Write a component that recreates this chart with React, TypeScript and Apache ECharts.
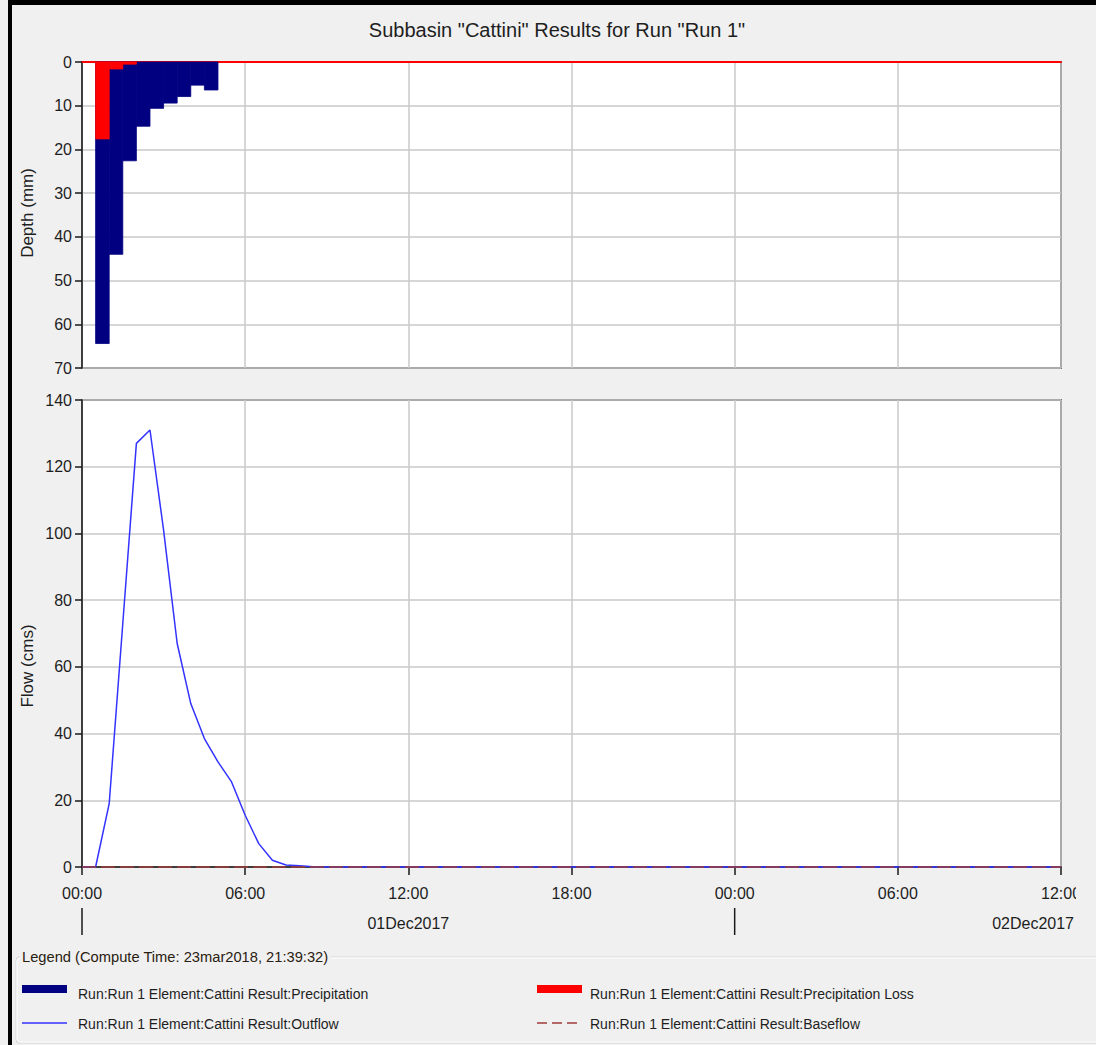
import React, { useEffect, useRef } from "react";
import * as echarts from "echarts";

// ---------- data ----------
const chartTitle = 'Subbasin "Cattini" Results for Run "Run 1"';
const depthAxisName = "Depth (mm)";
const flowAxisName = "Flow (cms)";

// precipitation intervals (end time in hours after 01Dec2017 00:00), 30 min steps
const stepHours = 0.5;
const precipEndHours = [1, 1.5, 2, 2.5, 3, 3.5, 4, 4.5, 5];
const precipDepth = [64.4, 44.0, 22.6, 14.7, 10.6, 9.4, 7.9, 5.3, 6.4];
const precipLoss = [17.6, 1.6, 0.5, 0, 0, 0, 0, 0, 0];

// outflow hydrograph
const flowHours = [0, 0.5, 1, 1.5, 2, 2.5, 3, 3.5, 4, 4.5, 5, 5.5, 6, 6.5, 7, 7.5, 8, 8.5, 9, 36];
const outflow = [0, 0, 19, 73, 127, 131, 101, 67, 49, 38.5, 31.5, 25.5, 15.5, 7, 2, 0.6, 0.4, 0.1, 0, 0];
const baseflowHours = [0, 36];
const baseflow = [0, 0];

const dayLabels = ["01Dec2017", "02Dec2017"];
const legendTitle = "Legend (Compute Time: 23mar2018, 21:39:32)";
const legendLabels = [
  "Run:Run 1 Element:Cattini Result:Precipitation",
  "Run:Run 1 Element:Cattini Result:Precipitation Loss",
  "Run:Run 1 Element:Cattini Result:Outflow",
  "Run:Run 1 Element:Cattini Result:Baseflow",
];

// ---------- styles ----------
const FONT = "Liberation Sans";
const BG = "#f0f0f0";
const NAVY = "#000080";
const RED = "#ff0000";
const BLUE = "#3333ff";
const BROWN = "#a03c3c";
const GRIDC = "#c8c8c8";
const TXT = "#1e1e1e";

const pad2 = (n: number) => (n < 10 ? "0" + n : "" + n);
const hourLabel = (v: number) => pad2(Math.round(v) % 24) + ":00";

function barData(values: number[]) {
  return precipEndHours.map((t, i) => [t - stepHours, t, values[i]]);
}

function makeRender(color: string) {
  return (params: any, api: any) => {
    const p0 = api.coord([api.value(0), 0]);
    const p1 = api.coord([api.value(1), api.value(2)]);
    const y = Math.min(p0[1], p1[1]);
    const h = Math.abs(p1[1] - p0[1]);
    if (h <= 0) return null;
    return {
      type: "rect",
      shape: { x: p0[0], y, width: p1[0] - p0[0], height: h },
      style: { fill: color, stroke: color, lineWidth: 0.8 },
    };
  };
}

export default function App() {
  const ref = useRef<HTMLDivElement>(null);

  useEffect(() => {
    if (!ref.current) return;
    const chart = echarts.init(ref.current, null, { renderer: "svg" });

    const axisLabelStyle = { color: TXT, fontSize: 16, fontFamily: FONT };
    const splitLine = { show: true, lineStyle: { color: GRIDC, width: 1.5 } };

    const option: any = {
      animation: false,
      backgroundColor: BG,
      textStyle: { fontFamily: FONT },
      grid: [
        { left: 82, top: 62, width: 979, height: 306, show: true, backgroundColor: "#fff", borderColor: "#1a1a1a", borderWidth: 1.5 },
        { left: 82, top: 400, width: 979, height: 467, show: true, backgroundColor: "#fff", borderColor: "#1a1a1a", borderWidth: 1.5 },
      ],
      xAxis: [
        {
          gridIndex: 0, type: "value", min: 0, max: 36, interval: 6, position: "top",
          axisLine: { show: true, lineStyle: { color: RED, width: 2 } },
          axisTick: { show: false }, axisLabel: { show: false }, splitLine,
        },
        {
          gridIndex: 1, type: "value", min: 0, max: 36, interval: 6, position: "bottom",
          axisLine: { show: true, lineStyle: { color: "#1a1a1a", width: 1.5 } },
          axisTick: { show: true, length: 8, lineStyle: { color: "#1a1a1a", width: 1.5 } },
          axisLabel: { ...axisLabelStyle, margin: 18, formatter: hourLabel, showMinLabel: true, showMaxLabel: true },
          splitLine,
        },
      ],
      yAxis: [
        {
          gridIndex: 0, type: "value", min: 0, max: 70, interval: 10, inverse: true,
          axisLine: { show: true, lineStyle: { color: "#1a1a1a", width: 1.5 } },
          axisTick: { show: true, length: 7, lineStyle: { color: "#1a1a1a", width: 1.5 } },
          axisLabel: { ...axisLabelStyle, margin: 10 },
          splitLine,
        },
        {
          gridIndex: 1, type: "value", min: 0, max: 140, interval: 20,
          axisLine: { show: true, lineStyle: { color: "#1a1a1a", width: 1.5 } },
          axisTick: { show: true, length: 7, lineStyle: { color: "#1a1a1a", width: 1.5 } },
          axisLabel: { ...axisLabelStyle, margin: 10 },
          splitLine,
        },
      ],
      series: [
        {
          name: legendLabels[0], type: "custom", xAxisIndex: 0, yAxisIndex: 0,
          renderItem: makeRender(NAVY), data: barData(precipDepth), z: 2,
        },
        {
          name: legendLabels[1], type: "custom", xAxisIndex: 0, yAxisIndex: 0,
          renderItem: makeRender(RED), data: barData(precipLoss), z: 3,
        },
        {
          name: legendLabels[2], type: "line", xAxisIndex: 1, yAxisIndex: 1,
          data: flowHours.map((t, i) => [t, outflow[i]]),
          showSymbol: false, symbol: "none", clip: false,
          lineStyle: { color: BLUE, width: 1.5 }, z: 3,
        },
        {
          name: legendLabels[3], type: "line", xAxisIndex: 1, yAxisIndex: 1,
          data: baseflowHours.map((t, i) => [t, baseflow[i]]),
          showSymbol: false, symbol: "none", clip: false,
          lineStyle: { color: BROWN, width: 1.5, type: [14, 5] }, z: 4,
        },
      ],
    };
    chart.setOption(option);

    const xDay1 = chart.convertToPixel({ xAxisIndex: 1 }, 0) as number;
    const xDay2 = chart.convertToPixel({ xAxisIndex: 1 }, 24) as number;
    const xNoon1 = chart.convertToPixel({ xAxisIndex: 1 }, 12) as number;

    const txt = (text: string, x: number, y: number, extra: any = {}) => ({
      type: "text", x, y, z: 100,
      style: { text, fill: TXT, fontSize: 14, fontFamily: FONT, align: "left", verticalAlign: "middle", ...extra },
    });

    const graphic: any[] = [
      // frame
      { type: "rect", z: 100, shape: { x: 8, y: 0, width: 1088, height: 5 }, style: { fill: "#000" } },
      { type: "rect", z: 100, shape: { x: 8, y: 0, width: 4, height: 1045 }, style: { fill: "#000" } },
      // title
      txt(chartTitle, 557, 30, { fontSize: 20, align: "center" }),
      // axis names
      { ...txt(depthAxisName, 27, 213, { fontSize: 17, align: "center" }), rotation: Math.PI / 2 },
      { ...txt(flowAxisName, 27, 666, { fontSize: 17, align: "center" }), rotation: Math.PI / 2 },
      // clip the last tick label like the reference
      { type: "rect", z: 101, shape: { x: 1076, y: 878, width: 20, height: 28 }, style: { fill: BG } },
      // day separators + labels
      { type: "line", z: 100, shape: { x1: xDay1, y1: 908, x2: xDay1, y2: 935 }, style: { stroke: "#1a1a1a", lineWidth: 1.5 } },
      { type: "line", z: 100, shape: { x1: xDay2, y1: 908, x2: xDay2, y2: 935 }, style: { stroke: "#1a1a1a", lineWidth: 1.5 } },
      txt(dayLabels[0], xNoon1, 923, { fontSize: 16, align: "center" }),
      txt(dayLabels[1], 1074, 923, { fontSize: 16, align: "right" }),
      // legend group box
      { type: "rect", z: 100, shape: { x: 16, y: 957, width: 1100, height: 86, r: 3 }, style: { fill: "none", stroke: "#d2d6da", lineWidth: 1 } },
      { type: "rect", z: 100, shape: { x: 17, y: 958, width: 1100, height: 84, r: 3 }, style: { fill: "none", stroke: "#ffffff", lineWidth: 1 } },
      txt(legendTitle, 20, 957, { fontSize: 14.7, backgroundColor: BG, padding: [0, 2], fill: "#2a2010" }),
      // legend entries
      { type: "rect", z: 100, shape: { x: 22, y: 985, width: 45, height: 8 }, style: { fill: NAVY } },
      txt(legendLabels[0], 78, 994),
      { type: "rect", z: 100, shape: { x: 537, y: 985, width: 45, height: 8 }, style: { fill: RED } },
      txt(legendLabels[1], 590, 994),
      { type: "line", z: 100, shape: { x1: 22, y1: 1023, x2: 67, y2: 1023 }, style: { stroke: BLUE, lineWidth: 1.5 } },
      txt(legendLabels[2], 78, 1024),
      { type: "line", z: 100, shape: { x1: 537, y1: 1023, x2: 582, y2: 1023 }, style: { stroke: BROWN, lineWidth: 1.5, lineDash: [10, 5] } },
      txt(legendLabels[3], 590, 1024),
    ];
    chart.setOption({ graphic });

    return () => chart.dispose();
  }, []);

  return (
    <div
      ref={ref}
      style={{ position: "fixed", left: 0, top: 0, width: 1096, height: 1045 }}
    />
  );
}
